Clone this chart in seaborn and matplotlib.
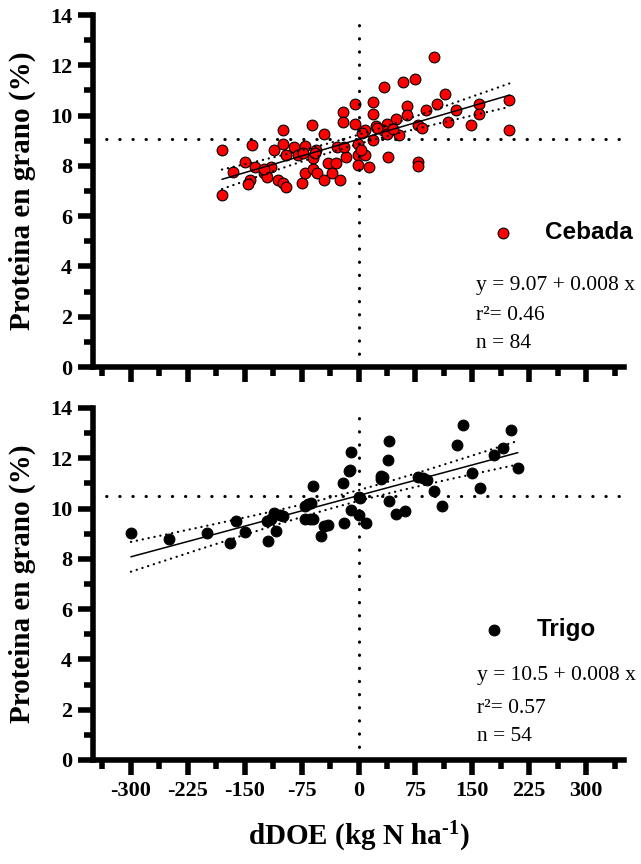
import numpy as np
import pandas as pd
import matplotlib
matplotlib.use("Agg")
import matplotlib.pyplot as plt
import seaborn as sns
from matplotlib.ticker import MultipleLocator
from matplotlib.font_manager import FontProperties

# ---------------- data ----------------
cebada_x = [99, 59, 74, 34, 114, 199, -5, 19, 104, 64, 159, -21, 19, 89, 129, 159, 64,
            -21, -5, 50, 118, 148, 79, 84, 199, -100, -61, -46, 9, 23, 38, 32, 19, 38, 54,
            -1, -1, -1, 9, 14, -16, -29, -19, 39, 78, 78, -180, -140, -111, -100, -85, -71,
            -56, -96, -80, -60, -40, -30, -150, -136, -115, -165, -125, -120, -143, -146,
            -106, -100, -95, -75, -70, -60, -55, -46, -35, -25, -180, -73, -125, 24, 45,
            -57, 3, 5]
cebada_y = [12.34, 11.34, 11.44, 11.12, 10.85, 10.64, 10.48, 10.53, 10.45, 10.37, 10.45,
            10.14, 10.05, 10.24, 10.21, 10.05, 10.01, 9.74, 9.65, 9.85, 9.74, 9.61, 9.61,
            9.52, 9.44, 9.44, 9.62, 9.25, 9.44, 9.57, 9.65, 9.41, 9.01, 9.28, 9.21, 8.86,
            8.42, 8.02, 8.42, 7.95, 8.35, 8.75, 8.75, 8.35, 8.15, 7.98, 8.64, 8.84, 8.64,
            8.86, 8.75, 8.78, 8.64, 8.42, 8.42, 8.32, 8.11, 8.13, 8.15, 7.95, 7.95, 7.75,
            7.71, 7.55, 7.45, 7.29, 7.45, 7.31, 7.15, 7.31, 7.71, 7.88, 7.71, 7.42, 7.71,
            7.42, 6.86, 8.5, 7.87, 9.5, 9.48, 8.5, 8.65, 9.3]

trigo_x = [-300, -250, -200, -169, -162, -150, -120, -119, -112, -109, -100, -71, -62,
           -60, -70, -60, -50, -40, -20, -19, -11, -10, -10, 0, 0, 10, 29, 30, 40, 39,
           40, 50, 61, 79, 90, 100, 110, 130, 138, 150, 160, 179, 190, 201, 210,
           -115, -66, -64, -12, 2, 32, 85, -104, -45]
trigo_y = [9.01, 8.80, 9.01, 8.62, 9.51, 9.08, 9.51, 8.71, 9.84, 9.11, 9.71, 10.10, 10.21,
           10.90, 9.60, 9.60, 8.91, 9.33, 11.01, 9.41, 11.54, 12.23, 9.93, 10.44, 9.73,
           9.41, 11.30, 11.17, 12.70, 11.93, 10.30, 9.80, 9.91, 11.24, 11.14, 10.70,
           10.10, 12.52, 13.32, 11.41, 10.81, 12.13, 12.41, 13.12, 11.61,
           9.6, 10.2, 9.6, 11.5, 10.4, 11.25, 11.2, 9.75, 9.3]

cebada_ref = 9.07
trigo_ref = 10.5
cebada_eq = ["y = 9.07 + 0.008 x", "r\u00b2= 0.46", "n = 84"]
trigo_eq = ["y = 10.5 + 0.008 x", "r\u00b2= 0.57", "n = 54"]
ylabel = "Proteina en grano (%)"
xlabel = r"dDOE (kg N ha$^{\text{-1}}$)"

# ---------------- style ----------------
sns.set_style("ticks")
plt.rcParams["font.family"] = ["Liberation Serif", "DejaVu Serif"]
plt.rcParams["mathtext.fontset"] = "custom"
plt.rcParams["mathtext.rm"] = "Liberation Serif:bold"
plt.rcParams["mathtext.bf"] = "Liberation Serif:bold"
plt.rcParams["mathtext.it"] = "Liberation Serif:bold"
plt.rcParams["axes.unicode_minus"] = False
for k in ("axes.edgecolor", "xtick.color", "ytick.color", "text.color",
          "axes.labelcolor"):
    plt.rcParams[k] = "black"

fig = plt.figure(figsize=(6.41, 8.64), dpi=100)
ax1 = fig.add_axes([0.1451, 0.5752, 0.8284, 0.4074])
ax2 = fig.add_axes([0.1451, 0.1204, 0.8284, 0.4074])

dot_ls = (0, (0.1, 4.2))
band_ls = (0, (0.1, 2.6))


def panel(ax, x, y, color, label, ref, eq, leg_xy, eq_x, eq_ys, show_xlab):
    x = np.asarray(x, float)
    y = np.asarray(y, float)
    df = pd.DataFrame({"x": x, "y": y})
    sns.scatterplot(data=df, x="x", y="y", ax=ax, color=color, edgecolor="black",
                    linewidth=0.8, s=60, label=label, zorder=3)
    sns.regplot(data=df, x="x", y="y", ax=ax, scatter=False, ci=None, truncate=True,
                line_kws=dict(color="black", lw=1.1, zorder=5))
    # 95% confidence band of the fit (dotted)
    b, a = np.polyfit(x, y, 1)
    n = len(x)
    xm = x.mean()
    s = np.sqrt(np.sum((y - (a + b * x)) ** 2) / (n - 2))
    sxx = np.sum((x - xm) ** 2)
    xs = np.linspace(x.min(), x.max(), 200)
    half = 1.99 * s * np.sqrt(1.0 / n + (xs - xm) ** 2 / sxx)
    for sign in (1, -1):
        ax.plot(xs, a + b * xs + sign * half, color="black", lw=1.6, ls=band_ls,
                dash_capstyle="round", zorder=5)
    ax.axhline(ref, color="black", lw=2.2, ls=dot_ls, dash_capstyle="round", zorder=4)
    ax.axvline(0, color="black", lw=2.2, ls=dot_ls, dash_capstyle="round", zorder=4)

    ax.set_xlim(-350, 350)
    ax.set_ylim(0, 14)
    ax.xaxis.set_major_locator(MultipleLocator(75))
    ax.xaxis.set_minor_locator(MultipleLocator(75, offset=37.5))
    ax.yaxis.set_major_locator(MultipleLocator(2))
    ax.yaxis.set_minor_locator(MultipleLocator(1))
    for sp in ("top", "right"):
        ax.spines[sp].set_visible(False)
    for sp in ("left", "bottom"):
        ax.spines[sp].set_linewidth(4)
        ax.spines[sp].set_color("black")
    ax.tick_params(which="major", length=11, width=4, direction="out", labelsize=16,
                   pad=4, color="black", labelcolor="black")
    ax.tick_params(which="minor", length=6.5, width=4, direction="out", color="black")
    for t in ax.get_xticklabels() + ax.get_yticklabels():
        t.set_fontweight("bold")
    if not show_xlab:
        ax.tick_params(axis="x", labelbottom=False)
        ax.set_xlabel("")
    else:
        ax.set_xlabel(xlabel, fontsize=21, fontweight="bold", labelpad=14)
    ax.set_ylabel(ylabel, fontsize=21, fontweight="bold", labelpad=10)

    ax.legend(loc="center left", bbox_to_anchor=leg_xy, frameon=False, borderpad=0,
              borderaxespad=0, handletextpad=0.73, handlelength=2.0,
              prop=FontProperties(family="Liberation Sans", weight="bold", size=17.5))
    for line, yy in zip(eq, eq_ys):
        ax.text(eq_x, yy, line, transform=ax.transAxes, fontsize=15.5,
                fontweight="normal", va="baseline", ha="left")


panel(ax1, cebada_x, cebada_y, "#ff0000", "Cebada", cebada_ref, cebada_eq,
      (0.726, 0.381), 0.721, (0.219, 0.134, 0.054), False)
panel(ax2, trigo_x, trigo_y, "black", "Trigo", trigo_ref, trigo_eq,
      (0.710, 0.371), 0.7226, (0.227, 0.133, 0.055), True)

fig.savefig("out.png", dpi=100)
